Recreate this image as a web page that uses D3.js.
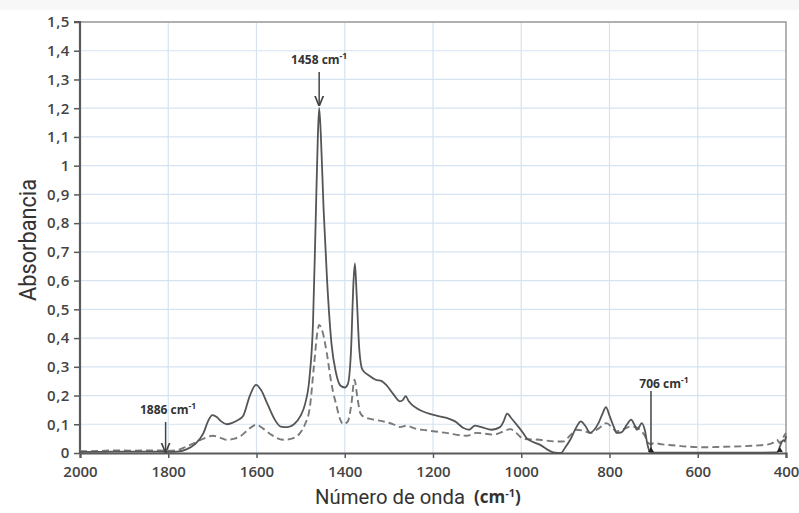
<!DOCTYPE html>
<html><head><meta charset="utf-8">
<script src="https://cdn.jsdelivr.net/npm/d3@7"></script>
<style>body{margin:0;background:#fff;}svg{display:block;}</style>
</head><body>
<svg id="c" width="799" height="513"></svg>
<script>
// Data
const solidWn = [2000,1950,1900,1850,1800,1780,1760,1740,1720,1710,1700,1690,1680,1667,1655,1644,1630,1615,1601,1590,1575,1560,1545,1530,1515,1500,1490,1480,1472,1466,1461,1458,1454,1448,1440,1430,1420,1410,1400,1393,1386,1380,1377,1373,1367,1360,1345,1330,1316,1305,1290,1275,1268,1262,1255,1237,1215,1192,1169,1150,1131,1118,1105,1090,1067,1048,1040,1032,1022,1010,995,988,958,927,910,900,889,875,865,855,844,835,825,815,808,800,790,784,773,760,751,744,738,733,727,720,714,708,700,600,500,420,412,406,403,400];
const solidAbs = [0.004,0.004,0.005,0.005,0.004,0.005,0.012,0.03,0.07,0.11,0.132,0.125,0.11,0.10,0.105,0.113,0.13,0.2,0.237,0.22,0.17,0.12,0.092,0.09,0.1,0.13,0.17,0.26,0.45,0.8,1.1,1.2,1.1,0.85,0.6,0.38,0.28,0.235,0.228,0.24,0.35,0.6,0.66,0.55,0.36,0.29,0.27,0.255,0.25,0.235,0.205,0.18,0.185,0.198,0.18,0.156,0.14,0.13,0.122,0.11,0.087,0.081,0.095,0.09,0.081,0.09,0.11,0.137,0.12,0.098,0.068,0.052,0.029,0.002,0.0,0.02,0.046,0.09,0.11,0.095,0.07,0.08,0.104,0.14,0.16,0.13,0.09,0.07,0.072,0.1,0.116,0.1,0.081,0.09,0.104,0.08,0.03,0.003,0.001,0.001,0.001,0.002,0.03,0.045,0.04,0.06];
const dashWn = [2000,1960,1920,1880,1840,1800,1780,1758,1740,1720,1699,1680,1667,1650,1637,1620,1601,1585,1565,1540,1520,1501,1490,1479,1470,1462,1458,1450,1441,1430,1418,1410,1403,1393,1385,1378,1372,1365,1358,1340,1313,1290,1275,1260,1240,1215,1170,1124,1101,1063,1040,1025,1010,995,958,920,905,890,875,860,844,825,807,795,784,765,750,731,720,712,706,700,680,656,620,580,540,504,470,444,430,421,414,408,400];
const dashAbs = [0.006,0.007,0.009,0.008,0.009,0.008,0.01,0.023,0.035,0.05,0.06,0.052,0.046,0.05,0.058,0.08,0.098,0.085,0.062,0.046,0.05,0.07,0.1,0.16,0.3,0.42,0.446,0.42,0.35,0.24,0.16,0.115,0.10,0.11,0.17,0.255,0.2,0.14,0.127,0.118,0.11,0.1,0.09,0.095,0.085,0.079,0.07,0.06,0.07,0.064,0.075,0.083,0.068,0.049,0.046,0.04,0.04,0.06,0.081,0.078,0.07,0.085,0.104,0.09,0.075,0.085,0.093,0.081,0.06,0.035,0.03,0.035,0.03,0.027,0.022,0.02,0.022,0.023,0.026,0.029,0.035,0.046,0.035,0.05,0.07];
const xTicks = [2000,1800,1600,1400,1200,1000,800,600,400];
const yTicks = [0,0.1,0.2,0.3,0.4,0.5,0.6,0.7,0.8,0.9,1,1.1,1.2,1.3,1.4,1.5];
const annotations = [
  {wn:1458, label:"1458 cm", top:1.2},
  {wn:1806, label:"1886 cm", top:0},
  {wn:706, label:"706 cm", top:0}
];

const svg = d3.select("#c");
const L=80, R=786, T=22, B=453;
const x = d3.scaleLinear().domain([2000,400]).range([L,R]);
const y = d3.scaleLinear().domain([0,1.5]).range([B,T]);

svg.append("rect").attr("x",0).attr("y",0).attr("width",799).attr("height",10).attr("fill","#f7f7f7");

// grid
svg.append("g").selectAll("line").data(yTicks.slice(1)).join("line")
  .attr("x1",L).attr("x2",R).attr("y1",d=>y(d)).attr("y2",d=>y(d))
  .attr("stroke","#d5e3f1").attr("stroke-width",1.2);
svg.append("g").selectAll("line").data(xTicks.slice(1,-1)).join("line")
  .attr("y1",T).attr("y2",B).attr("x1",d=>x(d)).attr("x2",d=>x(d))
  .attr("stroke","#d5e3f1").attr("stroke-width",1.2);

svg.append("path").attr("d",`M${L},${T}H${R}V${B}`).attr("fill","none").attr("stroke","#9a9a9a").attr("stroke-width",1.5);

const fmt = d => String(d).replace(".",",");
const yAxis = d3.axisLeft(y).tickValues(yTicks).tickFormat(fmt).tickSize(6).tickPadding(4);
const gy = svg.append("g").attr("transform",`translate(${L},0)`).call(yAxis);
const xAxis = d3.axisBottom(x).tickValues(xTicks).tickFormat(d=>d).tickSize(5).tickPadding(5);
const gx = svg.append("g").attr("transform",`translate(0,${B})`).call(xAxis);
[gy,gx].forEach(g=>{
  g.select(".domain").attr("stroke","#5a5a5a").attr("stroke-width",2.2);
  g.selectAll(".tick line").attr("stroke","#5a5a5a").attr("stroke-width",1.5);
  g.selectAll("text").attr("font-family","Open Sans, sans-serif").attr("font-weight",600)
   .attr("font-size",15).attr("fill","#444");
});
gy.selectAll("text").attr("letter-spacing",0.6);
gy.select(".domain").attr("d",`M-6,${T}H0V${B}`);
gx.selectAll("text").attr("dy","0.9em");

// lines
const lineGen = d3.line().x(d=>x(d[0])).y(d=>y(d[1])).curve(d3.curveMonotoneX);
svg.append("path").datum(dashWn.map((w,i)=>[w,dashAbs[i]]))
  .attr("d",lineGen).attr("fill","none").attr("stroke","#7a7a7a").attr("stroke-width",1.9).attr("stroke-dasharray","7,4");
svg.append("path").datum(solidWn.map((w,i)=>[w,solidAbs[i]]))
  .attr("d",lineGen).attr("fill","none").attr("stroke","#555").attr("stroke-width",1.8);

// annotations
svg.append("defs").append("marker").attr("id","ah").attr("viewBox","0 0 10 10").attr("refX",9).attr("refY",5)
  .attr("markerWidth",7).attr("markerHeight",7).attr("orient","auto-start-reverse")
  .append("path").attr("d","M0,1L10,5L0,9").attr("fill","none").attr("stroke","#444").attr("stroke-width",1.6);

function annot(a, textY, lineTop, lineBot, textX, marker){
  const t = svg.append("text").attr("x",textX).attr("y",textY).attr("text-anchor","middle")
    .attr("font-family","Open Sans, sans-serif").attr("font-weight",700).attr("font-size",12).attr("fill","#333");
  t.append("tspan").text(a.label);
  t.append("tspan").attr("dy",-5).attr("font-size",8.5).text("-1");
  const ln = svg.append("line").attr("x1",x(a.wn)).attr("x2",x(a.wn)).attr("y1",lineTop).attr("y2",lineBot)
    .attr("stroke","#444").attr("stroke-width",1.5);
  if(marker) ln.attr("marker-end","url(#ah)");
}
annot(annotations[0], 64, 72, y(annotations[0].top)-3, x(1458), true);
annot(annotations[1], 414, 422, B-1, 168, true);
annot(annotations[2], 388, 391, B-1, 664, false);
[706, 414].forEach(w=>{
  svg.append("path").attr("d",`M${x(w)-3},${B-1}L${x(w)},${B-6}L${x(w)+3},${B-1}Z`).attr("fill","#222");
});

// axis titles
svg.append("text").attr("transform","translate(36,240) rotate(-90)").attr("text-anchor","middle")
  .attr("font-family","Roboto, sans-serif").attr("font-size",23).attr("fill","#333")
  .attr("textLength",122).attr("lengthAdjust","spacingAndGlyphs").text("Absorbancia");
svg.append("text").attr("x",315).attr("y",504)
  .attr("font-family","Roboto, sans-serif").attr("font-size",21).attr("fill","#333")
  .attr("textLength",150).attr("lengthAdjust","spacingAndGlyphs").text("Número de onda");
const xb = svg.append("text").attr("x",474).attr("y",503)
  .attr("font-family","Open Sans, sans-serif").attr("font-weight",700).attr("font-size",17).attr("fill","#333");
xb.append("tspan").text("(cm");
xb.append("tspan").attr("dy",-6).attr("font-size",11).text("-1");
xb.append("tspan").attr("dy",6).text(")");
</script>
</body></html>
